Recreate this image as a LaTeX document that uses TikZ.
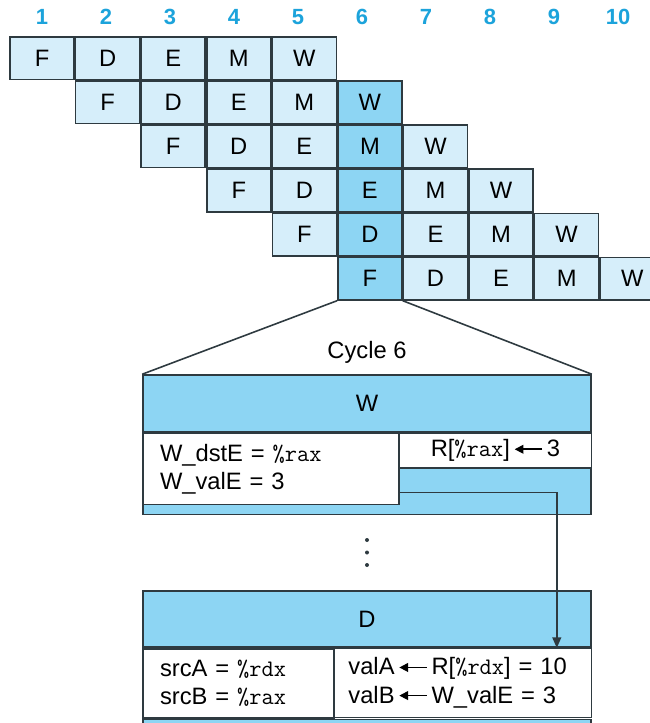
\documentclass[tikz,border=0pt]{standalone}
\usepackage{fontspec}
\setmainfont{Liberation Sans}
\usepackage{xcolor}
\usepackage{tikz}
\usetikzlibrary{arrows.meta,positioning,calc}
\definecolor{cellblue}{HTML}{D6EEFA}
\definecolor{stageblue}{HTML}{8DD5F3}
\definecolor{numblue}{HTML}{1CA3DB}
\definecolor{edgegray}{HTML}{2E3A40}
\newcommand{\getarrow}{\,\tikz[baseline=-0.6ex]\draw[line width=0.9pt,-{Triangle[length=5pt,width=5pt]}] (0.55,0) -- (0,0);\,}

\begin{document}
\begin{tikzpicture}[font=\fontsize{13.5}{16}\selectfont,line width=0.9pt]
    \tikzstyle{cell}=[draw=edgegray,fill=cellblue,minimum width=1.28cm,minimum height=0.85cm,inner sep=0pt]
    \tikzstyle{now}=[cell,fill=stageblue]
    \tikzstyle{num}=[text=numblue,font=\fontsize{12.5}{14}\selectfont\bfseries]
    \tikzstyle{head}=[draw=edgegray,fill=stageblue,minimum width=8.96cm,inner sep=0pt]
    \tikzstyle{pane}=[draw=edgegray,fill=white,inner sep=0pt,anchor=north west]
    \useasboundingbox (0,0) rectangle (13,-14.46);
    % cycle numbers
    \node[num] (n1)  at (0.84,-0.34)  {1};
    \node[num] (n2)  at (2.12,-0.34)  {2};
    \node[num] (n3)  at (3.40,-0.34)  {3};
    \node[num] (n4)  at (4.68,-0.34)  {4};
    \node[num] (n5)  at (5.96,-0.34)  {5};
    \node[num] (n6)  at (7.24,-0.34)  {6};
    \node[num] (n7)  at (8.52,-0.34)  {7};
    \node[num] (n8)  at (9.80,-0.34)  {8};
    \node[num] (n9)  at (11.08,-0.34) {9};
    \node[num] (n10) at (12.36,-0.34) {10};
    % pipeline rows
    \node[cell] (a1) at (0.84,-1.165) {F};
    \node[cell,right=0pt of a1] (a2) {D};
    \node[cell,right=0pt of a2] (a3) {E};
    \node[cell,right=0pt of a3] (a4) {M};
    \node[cell,right=0pt of a4] (a5) {W};
    \node[cell,below=0pt of a2] (b2) {F};
    \node[cell,right=0pt of b2] (b3) {D};
    \node[cell,right=0pt of b3] (b4) {E};
    \node[cell,right=0pt of b4] (b5) {M};
    \node[now,right=0pt of b5]  (b6) {W};
    \node[cell,below=0pt of b3] (c3) {F};
    \node[cell,right=0pt of c3] (c4) {D};
    \node[cell,right=0pt of c4] (c5) {E};
    \node[now,right=0pt of c5]  (c6) {M};
    \node[cell,right=0pt of c6] (c7) {W};
    \node[cell,below=0pt of c4] (d4) {F};
    \node[cell,right=0pt of d4] (d5) {D};
    \node[now,right=0pt of d5]  (d6) {E};
    \node[cell,right=0pt of d6] (d7) {M};
    \node[cell,right=0pt of d7] (d8) {W};
    \node[cell,below=0pt of d5] (e5) {F};
    \node[now,right=0pt of e5]  (e6) {D};
    \node[cell,right=0pt of e6] (e7) {E};
    \node[cell,right=0pt of e7] (e8) {M};
    \node[cell,right=0pt of e8] (e9) {W};
    \node[now,below=0pt of e6]  (f6) {F};
    \node[cell,right=0pt of f6] (f7) {D};
    \node[cell,right=0pt of f7] (f8) {E};
    \node[cell,right=0pt of f8] (f9) {M};
    \node[cell,right=0pt of f9] (f10) {W};
    % cycle 6 close-up
    \node[head,minimum height=1.14cm] (wh) at (7.34,-8.07) {W};
    \node[head,minimum height=1.62cm,below=0pt of wh] (wb) {};
    \node[pane,minimum width=5.12cm,minimum height=1.42cm,text width=4.44cm,align=left,inner xsep=0.34cm] (wl) at (wb.north west) {W\_dstE = \texttt{\%rax}\\W\_valE = 3};
    \node[pane,anchor=north east,minimum width=3.84cm,minimum height=0.7cm] (wr) at (wb.north east) {R[\texttt{\%rax}]\getarrow 3};
    \node[above=0.08cm of wh] (cyc) {Cycle 6};
    \draw[edgegray] (f6.south west) -- (wh.north west);
    \draw[edgegray] (f6.south east) -- (wh.north east);
    \coordinate (dots) at (7.34,-11.05);
    \fill[edgegray] ($(dots)+(0,0.25)$) circle (0.04) (dots) circle (0.04) ($(dots)+(0,-0.25)$) circle (0.04);
    \node[head,minimum height=1.12cm,below=1.5cm of wb] (dh) {D};
    \node[pane,minimum width=3.82cm,minimum height=1.38cm,text width=3.14cm,align=left,inner xsep=0.34cm] (dl) at (dh.south west) {srcA = \texttt{\%rdx}\\srcB = \texttt{\%rax}};
    \node[pane,anchor=north east,minimum width=5.14cm,minimum height=1.38cm,text width=4.58cm,align=left,inner xsep=0.28cm] (dr) at (dh.south east) {valA\getarrow R[\texttt{\%rdx}] = 10\\valB\getarrow W\_valE = 3};
    \node[head,anchor=north west,minimum height=0.6cm] (dt) at (dl.south west) {};
    % forwarding path
    \coordinate (wout) at ($(wl.south east)+(0,0.26)$);
    \coordinate (din) at ($(dh.south east)+(-0.7,0)$);
    \draw[edgegray,-{Triangle[length=6pt,width=5pt]}] (wout) -| (din);
  \end{tikzpicture}
\end{document}
